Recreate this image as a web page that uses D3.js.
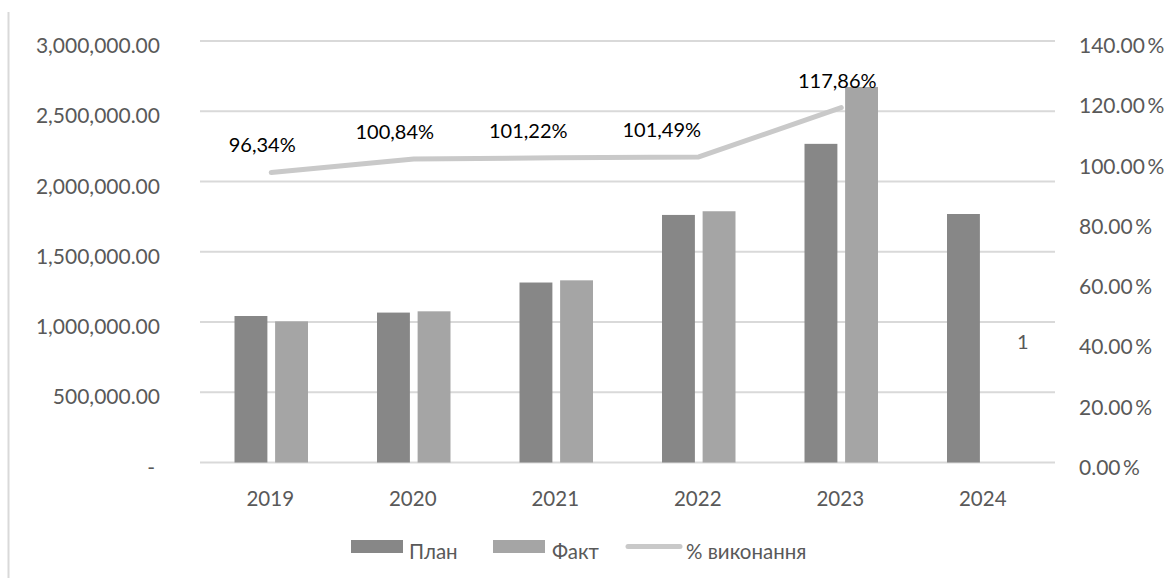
<!DOCTYPE html>
<html>
<head>
<meta charset="utf-8">
<script src="https://cdn.jsdelivr.net/npm/d3@7"></script>
<style>
  html, body { margin: 0; padding: 0; background: #fff; }
  svg { display: block; font-family: Lato, "Open Sans", sans-serif; }
</style>
</head>
<body>
<svg id="chart" width="1176" height="578"></svg>
<script>
// Budget plan vs. actual by year, with execution rate on a secondary axis
const years = ["2019", "2020", "2021", "2022", "2023", "2024"];
const planValues = [1042700, 1067000, 1281000, 1762000, 2268000, 1768700];
const factValues = [1004500, 1076000, 1296600, 1788250, 2673000, null];
const rateValues = [96.34, 100.84, 101.22, 101.49, 117.86];
const rateLabels = ["96,34%", "100,84%", "101,22%", "101,49%", "117,86%"];
const leftTicks = [0, 500000, 1000000, 1500000, 2000000, 2500000, 3000000];
const rightTicks = [0, 20, 40, 60, 80, 100, 120, 140];
const seriesNames = ["План", "Факт", "% виконання"];
const extraNote = "1";

// layout
const plot = { left: 200, right: 1055, top: 41, bottom: 462.5 };
const labelNudge = [-9, -19, -28, -37, -4];
const colors = { plan: "#878787", fact: "#a5a5a5", rate: "#c9c9c9", grid: "#d9d9d9", axisText: "#595959" };
const axisFont = 21;
const catFont = 20.5;
const labelFont = 20;

const svg = d3.select("#chart");

const x0 = d3.scaleBand().domain(years).range([plot.left, plot.right]).padding(0);
const x1 = d3.scaleBand().domain(["plan", "fact"])
  .range([34.5, x0.bandwidth() - 34.5]).paddingInner(0.19).paddingOuter(0);
const y = d3.scaleLinear().domain([0, 3000000]).range([plot.bottom, plot.top]);
const y2 = d3.scaleLinear().domain([0, 140]).range([plot.bottom, plot.top]);

// left border of the chart area
svg.append("line")
  .attr("x1", 8.5).attr("x2", 8.5).attr("y1", 12).attr("y2", 578)
  .attr("stroke", colors.grid).attr("stroke-width", 2);

// gridlines from the primary axis
svg.append("g").selectAll("line").data(leftTicks).join("line")
  .attr("x1", plot.left).attr("x2", plot.right)
  .attr("y1", d => y(d)).attr("y2", d => y(d))
  .attr("stroke", colors.grid).attr("stroke-width", 2);

// left axis
const fmtLeft = d3.format(",.2f");
const leftAxis = d3.axisLeft(y).tickValues(leftTicks).tickSize(0).tickPadding(0)
  .tickFormat(d => d === 0 ? "-" : fmtLeft(d));
svg.append("g").attr("transform", `translate(160,5)`).call(leftAxis)
  .call(g => g.select(".domain").remove())
  .call(g => g.selectAll("text").attr("font-size", axisFont).attr("fill", colors.axisText)
    .attr("font-family", "Lato, sans-serif").attr("dx", d => d === 0 ? -5 : 0));

// right axis
const fmtRight = d3.format(".2f");
const rightAxis = d3.axisRight(y2).tickValues(rightTicks).tickSize(0).tickPadding(0)
  .tickFormat(d => fmtRight(d) + "\u2009%");
svg.append("g").attr("transform", `translate(1079,5)`).call(rightAxis)
  .call(g => g.select(".domain").remove())
  .call(g => g.selectAll("text").attr("font-size", axisFont).attr("fill", colors.axisText)
    .attr("font-family", "Lato, sans-serif"));

// category axis
const xAxis = d3.axisBottom(x0).tickSize(0).tickPadding(0);
svg.append("g").attr("transform", `translate(-1,${plot.bottom + 29})`).call(xAxis)
  .call(g => g.select(".domain").remove())
  .call(g => g.selectAll("text").attr("font-size", catFont).attr("fill", colors.axisText)
    .attr("font-family", "Lato, sans-serif"));

// bars
const rows = years.map((yr, i) => ({ year: yr, plan: planValues[i], fact: factValues[i] }));
const groups = svg.append("g").selectAll("g").data(rows).join("g")
  .attr("transform", d => `translate(${x0(d.year)},0)`);
groups.selectAll("rect")
  .data(d => [{ key: "plan", v: d.plan }, { key: "fact", v: d.fact }].filter(e => e.v != null))
  .join("rect")
  .attr("x", e => x1(e.key))
  .attr("width", x1.bandwidth())
  .attr("y", e => y(e.v))
  .attr("height", e => y(0) - y(e.v))
  .attr("fill", e => colors[e.key]);

// execution-rate line
const cx = yr => x0(yr) + x0.bandwidth() / 2;
const rateData = rateValues.map((v, i) => ({ year: years[i], v }));
svg.append("path")
  .datum(rateData)
  .attr("fill", "none")
  .attr("stroke", colors.rate)
  .attr("stroke-width", 5)
  .attr("stroke-linecap", "round")
  .attr("stroke-linejoin", "round")
  .attr("d", d3.line().x(d => cx(d.year)).y(d => y2(d.v)));

// rate labels
svg.append("g").selectAll("text").data(rateData).join("text")
  .attr("x", (d, i) => cx(d.year) + labelNudge[i])
  .attr("y", d => y2(d.v) - 27)
  .attr("dy", "0.35em")
  .attr("text-anchor", "middle")
  .attr("font-size", labelFont)
  .attr("fill", "#000")
  .text((d, i) => rateLabels[i]);

// stray note beside the last category
svg.append("text")
  .attr("x", cx("2024") + 39)
  .attr("y", y2(40))
  .attr("dy", "0.35em")
  .attr("text-anchor", "middle")
  .attr("font-size", labelFont)
  .attr("fill", colors.axisText)
  .text(extraNote);

// legend
const legend = svg.append("g").attr("font-size", catFont).attr("fill", colors.axisText);
const legendItems = [
  { name: seriesNames[0], type: "rect", color: colors.plan, x: 351, tx: 409 },
  { name: seriesNames[1], type: "rect", color: colors.fact, x: 493, tx: 552 },
  { name: seriesNames[2], type: "line", color: colors.rate, x: 628, tx: 686 }
];
legendItems.forEach(it => {
  if (it.type === "rect") {
    legend.append("rect").attr("x", it.x).attr("y", 540).attr("width", 52).attr("height", 13)
      .attr("fill", it.color);
  } else {
    legend.append("line").attr("x1", it.x).attr("x2", it.x + 52).attr("y1", 546.5).attr("y2", 546.5)
      .attr("stroke", it.color).attr("stroke-width", 5).attr("stroke-linecap", "round");
  }
  legend.append("text").attr("x", it.tx).attr("y", 552).attr("dy", "0.35em").text(it.name);
});
</script>
</body>
</html>
